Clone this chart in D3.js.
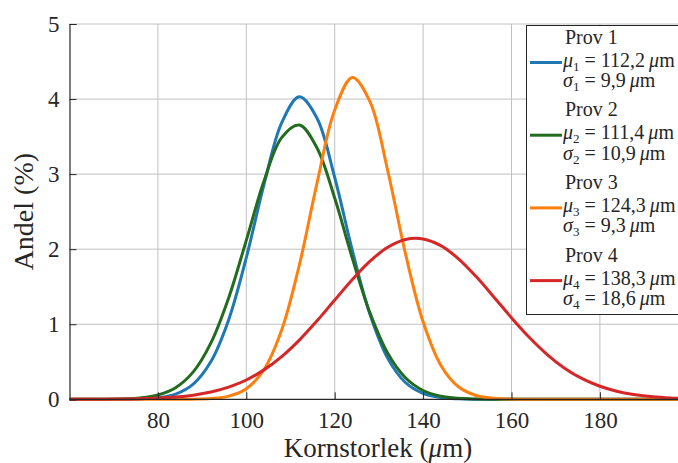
<!DOCTYPE html>
<html>
<head>
<meta charset="utf-8">
<script src="https://cdn.jsdelivr.net/npm/d3@7"></script>
<style>
  body { margin: 0; background: #fff; }
  text { font-family: "Liberation Serif", "DejaVu Serif", serif; fill: #262626; }
</style>
</head>
<body>
<div id="chart"></div>
<script>
// sample positions (µm) and share (%)
const sizes = [60, 64, 68, 72, 76, 80, 84, 88, 92, 96, 100, 104, 108, 112, 116, 120, 124, 128,
  132, 136, 140, 144, 148, 152, 156, 160, 164, 168, 172, 176, 180, 184, 188, 192, 196, 200];

const prov1 = [0, 0, 0.0002, 0.0011, 0.005, 0.0204, 0.0697, 0.203, 0.503, 1.057, 1.886, 2.86, 3.683, 4.03, 3.744, 2.955, 1.981, 1.128,
  0.545, 0.224, 0.078, 0.023, 0.006, 0.001, 0, 0, 0, 0, 0, 0, 0, 0, 0, 0, 0, 0];
const prov2 = [0.0001, 0.0003, 0.0013, 0.0053, 0.0188, 0.0578, 0.155, 0.365, 0.751, 1.349, 2.118, 2.907, 3.486, 3.654, 3.348, 2.681, 1.877, 1.148,
  0.613, 0.287, 0.117, 0.042, 0.013, 0.0036, 0.0008, 0.0002, 0, 0, 0, 0, 0, 0, 0, 0, 0, 0];
const prov3 = [0, 0, 0, 0, 0, 0.0001, 0.0004, 0.0021, 0.0103, 0.0418, 0.141, 0.396, 0.923, 1.789, 2.881, 3.855, 4.288, 3.963,
  3.045, 1.944, 1.032, 0.455, 0.167, 0.051, 0.013, 0.0027, 0.0005, 0.0001, 0, 0, 0, 0, 0, 0, 0, 0];
const prov4 = [0.0003, 0.0007, 0.0017, 0.0037, 0.0079, 0.0158, 0.0302, 0.0554, 0.0968, 0.1615, 0.2574, 0.392, 0.569, 0.789, 1.045, 1.322, 1.596, 1.84,
  2.025, 2.129, 2.136, 2.047, 1.872, 1.635, 1.364, 1.086, 0.826, 0.6, 0.415, 0.275, 0.174, 0.105, 0.0604, 0.0332, 0.0174, 0.0088];

const names = ['Prov 1', 'Prov 2', 'Prov 3', 'Prov 4'];
const means = ['112,2', '111,4', '124,3', '138,3'];
const sigmas = ['9,9', '10,9', '9,3', '18,6'];
const colors = ['#1f77b4', '#236b1e', '#ff7f0e', '#d62728'];

const xTicks = [80, 100, 120, 140, 160, 180];
const yTicks = [0, 1, 2, 3, 4, 5];

const width = 678, height = 463;
const margin = {top: 24, left: 69.5, bottom: 63.7};

const svg = d3.select('#chart').append('svg')
  .attr('width', width)
  .attr('height', height);

const x = d3.scaleLinear().domain([60, 200]).range([margin.left, margin.left + 140 * 4.42]);
const y = d3.scaleLinear().domain([0, 5]).range([height - margin.bottom, margin.top]);

// grid
const grid = svg.append('g');
grid.selectAll('.gx').data(xTicks).join('line')
  .attr('x1', d => x(d)).attr('x2', d => x(d))
  .attr('y1', y(0)).attr('y2', y(5))
  .attr('stroke', '#c0c0c0').attr('stroke-width', 1);
grid.selectAll('.gy').data(yTicks.slice(1)).join('line')
  .attr('x1', x(60)).attr('x2', width)
  .attr('y1', d => y(d)).attr('y2', d => y(d))
  .attr('stroke', '#c0c0c0').attr('stroke-width', 1);

// curves
svg.append('clipPath').attr('id', 'plotclip').append('rect')
  .attr('x', x(60)).attr('y', y(5) - 5).attr('width', width - x(60)).attr('height', y(0) - y(5) + 10);

const series = [prov1, prov2, prov3, prov4];
const line = d3.line()
  .x((d, i) => x(sizes[i]))
  .y(d => y(d))
  .curve(d3.curveCatmullRom.alpha(0.5));

svg.append('g').attr('clip-path', 'url(#plotclip)')
  .selectAll('path').data(series).join('path')
  .attr('d', line)
  .attr('fill', 'none')
  .attr('stroke', (d, i) => colors[i])
  .attr('stroke-width', 3);

// axes
const axisX = d3.axisBottom(x).tickValues(xTicks).tickSize(-7).tickPadding(12.5).tickFormat(d3.format('d'));
const axisY = d3.axisLeft(y).tickValues(yTicks).tickSize(-7).tickPadding(10).tickFormat(d3.format('d'));

const gx = svg.append('g').attr('transform', `translate(0,${y(0)})`).call(axisX);
const gy = svg.append('g').attr('transform', `translate(${x(60)},0)`).call(axisY);
[gx, gy].forEach(g => {
  g.select('.domain').attr('stroke', '#262626').attr('stroke-width', 1.2);
  g.selectAll('.tick line').attr('stroke', '#262626');
  g.selectAll('.tick text').attr('font-size', 23).attr('font-family', '"Liberation Serif", serif').attr('fill', '#262626');
});
gx.select('.domain').attr('d', `M${x(60)},0H${width}`);

// axis labels
const xl = svg.append('text')
  .attr('x', 378).attr('y', 457)
  .attr('text-anchor', 'middle').attr('font-size', 27);
xl.append('tspan').text('Kornstorlek (');
xl.append('tspan').attr('font-style', 'italic').text('μ');
xl.append('tspan').text('m)');

svg.append('text')
  .attr('transform', `translate(33,${(y(0) + y(5)) / 2}) rotate(-90)`)
  .attr('text-anchor', 'middle').attr('font-size', 28)
  .text('Andel (%)');

// legend
const lg = svg.append('g');
lg.append('rect')
  .attr('x', 526.5).attr('y', 25.5).attr('width', 170).attr('height', 289)
  .attr('fill', '#fff').attr('stroke', '#262626').attr('stroke-width', 1);

const rowStep = 72.7;
const mathLine = (g, yPos, sym, i, val) => {
  const t = g.append('text').attr('x', 563).attr('y', yPos).attr('font-size', 20);
  t.append('tspan').attr('font-style', 'italic').text(sym);
  t.append('tspan').attr('font-size', 13).attr('dy', 4).text(i + 1);
  t.append('tspan').attr('dy', -4).text(' = ' + val + '\u2009');
  t.append('tspan').attr('font-style', 'italic').text('μ');
  t.append('tspan').text('m');
};
names.forEach((n, i) => {
  const top = 37.5 + i * rowStep;
  const g = lg.append('g');
  g.append('line')
    .attr('x1', 530).attr('x2', 562)
    .attr('y1', top + 25).attr('y2', top + 25)
    .attr('stroke', colors[i]).attr('stroke-width', 3);
  g.append('text').attr('x', 565).attr('y', top + 6).attr('font-size', 20).text(n);
  mathLine(g, top + 29, 'μ', i, means[i]);
  mathLine(g, top + 49.5, 'σ', i, sigmas[i]);
});
</script>
</body>
</html>
